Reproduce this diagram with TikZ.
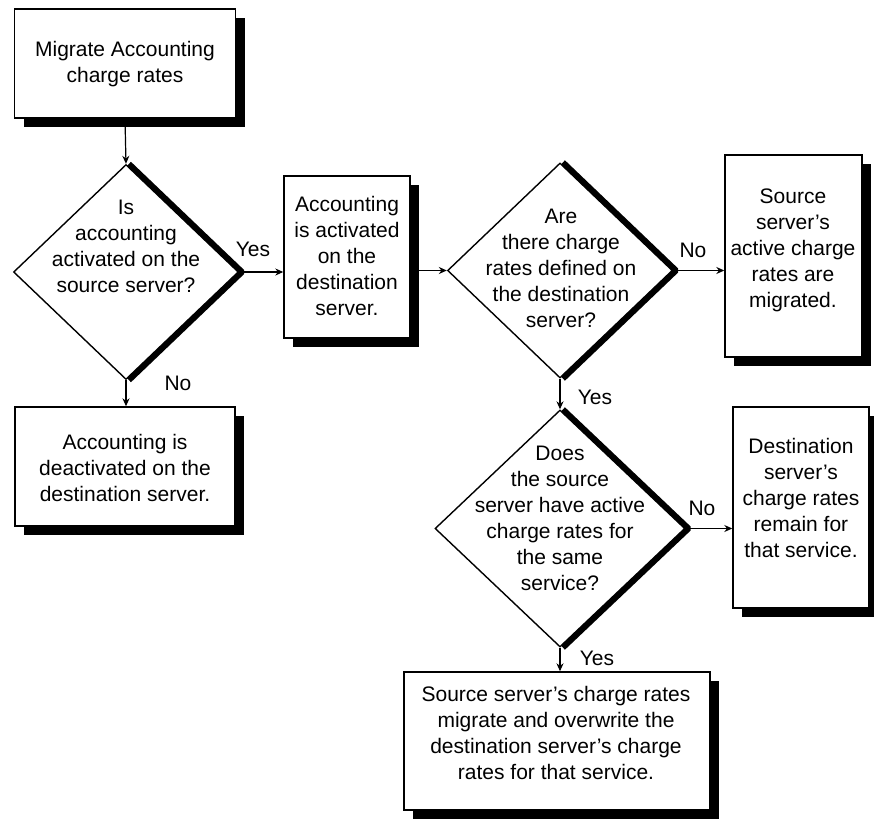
\documentclass[tikz,border=0pt]{standalone}
\usepackage{fontspec}
\setmainfont{Liberation Sans}
\usetikzlibrary{shapes.geometric,shadows,arrows.meta}

\begin{document}
\begin{tikzpicture}[x=0.5pt,y=-0.5pt,
  box/.style = {draw,line width=0.7pt,fill=white,inner sep=0pt,drop shadow={shadow xshift=4.5pt,shadow yshift=-4.5pt,fill=black,opacity=1}},
  test/.style = {draw,diamond,line width=0.7pt,fill=white,inner sep=0pt},
  rim/.style = {line width=2.8pt,line join=bevel},
  txt/.style = {align=center,font=\fontsize{10.5}{13}\selectfont},
  flow/.style = {line width=0.6pt,-{Stealth[length=4pt,width=3.5pt]}}]
%\useasboundingbox (izq,arriba) rectangle (der,abajo); en pixeles
\useasboundingbox (0,0) rectangle (874,819);
% cajas
\node (mig) at (125,63.5) [box,minimum width=110.5pt,minimum height=54.5pt] {};
\node (actOn) at (347,257) [box,minimum width=63pt,minimum height=81pt] {};
\node (srcMig) at (793.5,256) [box,minimum width=68.5pt,minimum height=101pt] {};
\node (actOff) at (125,466.5) [box,minimum width=110pt,minimum height=59.5pt] {};
\node (keep) at (801,507.5) [box,minimum width=68pt,minimum height=100.5pt] {};
\node (over) at (557,741) [box,minimum width=153pt,minimum height=69pt] {};
% rombos
\node (dAct) at (126,272) [test,minimum width=112.5pt,minimum height=107.5pt] {};
\node (dRates) at (560,270.5) [test,minimum width=112.5pt,minimum height=107.5pt] {};
\node (dSame) at (560,528.5) [test,minimum width=125pt,minimum height=118.5pt] {};
\foreach \d in {dAct,dRates,dSame}
  \draw[rim] ([xshift=1.5pt]\d.north) -- ([xshift=1.5pt]\d.east) -- ([xshift=1.5pt]\d.south);
% textos
\node (tMig) at (125,64) [txt] {Migrate Accounting\\charge rates};
\node (tAct) at (126,246) [txt] {Is\\accounting\\activated on the\\source server?};
\node (tActOn) at (347,256) [txt] {Accounting\\is activated\\on the\\destination\\server.};
\node (tRates) at (561,268) [txt] {Are\\there charge\\rates defined on\\the destination\\server?};
\node (tSrcMig) at (793,250) [txt] {Source\\server's\\active charge\\rates are\\migrated.};
\node (tActOff) at (125,468) [txt] {Accounting is\\deactivated on the\\destination server.};
\node (tSame) at (560,518) [txt] {Does\\the source\\server have active\\charge rates for\\the same\\service?};
\node (tKeep) at (801,498) [txt] {Destination\\server's\\charge rates\\remain for\\that service.};
\node (tOver) at (556,733) [txt] {Source server's charge rates\\migrate and overwrite the\\destination server's charge\\rates for that service.};
% flechas
\draw[flow] (mig.south) -- (dAct.north);
\draw[flow] (dAct.east) -- (dAct.east -| actOn.west);
\draw[flow] (dAct.south) -- (dAct.south |- actOff.north);
\draw[flow] (dRates.west -| actOn.east) -- (dRates.west);
\draw[flow] (dRates.east) -- (dRates.east -| srcMig.west);
\draw[flow] (dRates.south) -- (dSame.north);
\draw[flow] (dSame.east) -- (dSame.east -| keep.west);
\draw[flow] (dSame.south) -- (dSame.south |- over.north);
% si / no
\node (yes1) at (253,249) [txt] {Yes};
\node (no1) at (178,383) [txt] {No};
\node (no2) at (693,250) [txt] {No};
\node (yes2) at (595,397) [txt] {Yes};
\node (no3) at (702,508) [txt] {No};
\node (yes3) at (597,658) [txt] {Yes};
\end{tikzpicture}
\end{document}
